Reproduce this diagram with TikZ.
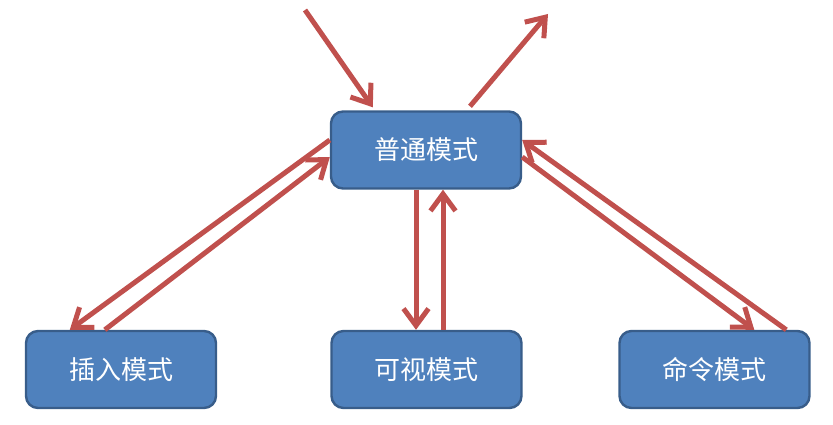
\documentclass[tikz,border=0pt]{standalone}
\usepackage{fontspec}
\usepackage{tikz}
\usetikzlibrary{positioning,arrows.meta,calc}
\newfontfamily\cjk{Noto Sans CJK SC}
\definecolor{BoxBlue}{HTML}{4F81BD}
\definecolor{BoxEdge}{HTML}{385D8A}
\definecolor{ArrowRed}{HTML}{C0504D}

\tikzset{
  modebox/.style={draw=BoxEdge, fill=BoxBlue, line width=2.4pt, rounded corners=12pt,
    minimum width=190pt, minimum height=77pt, text=white,
    font=\cjk\fontsize{26}{30}\selectfont},
  modearrow/.style={draw=ArrowRed, line width=5pt,
    -{Straight Barb[length=17pt, width=25pt, line width=5pt]}}
}

\begin{document}
\begin{tikzpicture}[x=1pt, y=-1pt]
  \useasboundingbox (0,0) rectangle (833,425);

  \node[modebox] (normal) at (426,150) {普通模式};
  \node[modebox] (insert) at (121,369.5) {插入模式};
  \node[modebox] (visual) at (426.5,369.5) {可视模式};
  \node[modebox] (command) at (714.5,369.5) {命令模式};

  \coordinate (enter) at (305,10);
  \coordinate (leave) at (548,14);

  % in and out of normal mode
  \draw[modearrow] (enter) -- ($(normal.north west)+(43,-3)$);
  \draw[modearrow] ($(normal.north)+(44,-4)$) -- (leave);

  % normal <-> insert
  \draw[modearrow] ($(normal.west)+(0,-10)$) -- ($(insert.north west)+(45,0)$);
  \draw[modearrow] ($(insert.north west)+(80,0)$) -- ($(normal.west)+(0,7)$);

  % normal <-> visual
  \draw[modearrow] ($(normal.south)+(-10,0)$) -- ($(visual.north)+(-10.5,0)$);
  \draw[modearrow] ($(visual.north)+(16.5,0)$) -- ($(normal.south)+(17,0)$);

  % normal <-> command
  \draw[modearrow] ($(normal.east)+(0,7)$) -- ($(command.north west)+(136,0)$);
  \draw[modearrow] ($(command.north west)+(168,0)$) -- ($(normal.east)+(0,-10)$);
\end{tikzpicture}
\end{document}
